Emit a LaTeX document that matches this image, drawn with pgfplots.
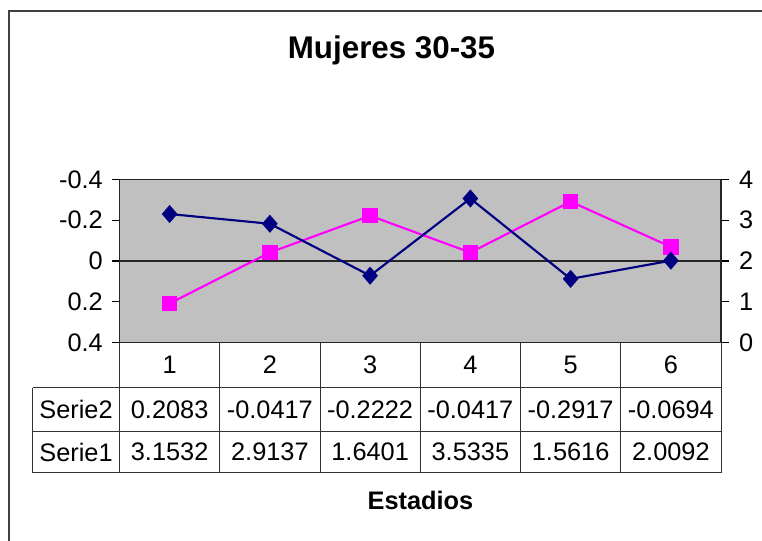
\documentclass[border=0pt]{standalone}
\usepackage{pgfplots}
\pgfplotsset{compat=1.18}
\usepackage{fontspec}
\setmainfont{Liberation Sans}
\definecolor{navyser}{RGB}{0,0,128}
\definecolor{magser}{RGB}{255,0,255}
\definecolor{plotgray}{RGB}{192,192,192}

\newcommand{\tabfont}{\fontsize{19}{22}\selectfont}

\begin{document}
\begin{tikzpicture}
% page in pixel units of the reference (y downwards)
\begin{scope}[x=0.75pt,y=-0.75pt]
  \useasboundingbox (0,0) rectangle (762,541);
  \draw[black!75, line width=1.5pt] (8.5,541) -- (8.5,11) -- (762,11);
  \node[font=\fontsize{23.5}{26}\selectfont\bfseries] at (391.5,50) {Mujeres 30-35};
  \node[font=\fontsize{19}{22}\selectfont\bfseries] at (420.5,500) {Estadios};
  % data table
  \foreach \k in {0,...,6}
    \draw[black!80, line width=0.75pt] (119.5+\k*100.25,342.5) -- (119.5+\k*100.25,472.5);
  \draw[black!80, line width=0.75pt] (32.7,387.5) -- (32.7,472.5);
  \foreach \yy in {387.5,431.5,472.5}
    \draw[black!80, line width=0.75pt] (32.7,\yy) -- (721,\yy);
  \foreach \k in {1,...,6}
    \node[font=\tabfont] at (119.5+\k*100.25-50.125,365) {\k};
  \node[font=\tabfont] at (76,409.5) {Serie2};
  \node[font=\tabfont] at (76,452) {Serie1};
  \foreach \v [count=\k] in {0.2083,-0.0417,-0.2222,-0.0417,-0.2917,-0.0694}
    \node[font=\tabfont] at (119.5+\k*100.25-50.125,409.5) {\v};
  \foreach \v [count=\k] in {3.1532,2.9137,1.6401,3.5335,1.5616,2.0092}
    \node[font=\tabfont] at (119.5+\k*100.25-50.125,452) {\v};
\end{scope}

\pgfplotsset{
  every axis/.append style={
    scale only axis, width=451.1pt, height=122.25pt,
    at={(89.625pt,-256.875pt)}, anchor=south west,
    xmin=0.5, xmax=6.5, xtick=\empty,
  },
}

\begin{axis}[
  axis background/.style={fill=plotgray},
  axis line style={black!85, line width=1pt},
  y dir=reverse, ymin=-0.4, ymax=0.4,
  ytick={-0.4,-0.2,0,0.2,0.4},
  yticklabels={-0.4,-0.2,0,0.2,0.4},
  yticklabel style={font=\tabfont, xshift=-3pt},
  ytick pos=left, ytick align=outside,
  ytick style={draw=black, line width=1pt},
  major tick length=6pt,
]
\addplot[black!85, line width=0.9pt, mark=none] coordinates {(0.5,0)(6.5,0)};
\addplot[magser, line width=1.6pt, mark=square*, mark size=5pt,
  mark options={solid}] coordinates {
  (1,0.2083)(2,-0.0417)(3,-0.2222)(4,-0.0417)(5,-0.2917)(6,-0.0694)
};
\end{axis}

\begin{axis}[
  axis y line*=right, axis x line=none,
  axis line style={black!85, line width=1pt},
  ymin=0, ymax=4, ytick={0,1,2,3,4},
  yticklabels={0,1,2,3,4},
  yticklabel style={font=\tabfont, xshift=4pt},
  ytick align=outside,
  ytick style={draw=black, line width=1pt},
  major tick length=6pt,
]
\addplot[navyser, line width=1.6pt, mark=diamond*, mark size=5.6pt,
  mark options={xscale=1.15}] coordinates {
  (1,3.1532)(2,2.9137)(3,1.6401)(4,3.5335)(5,1.5616)(6,2.0092)
};
\end{axis}
\end{tikzpicture}
\end{document}
